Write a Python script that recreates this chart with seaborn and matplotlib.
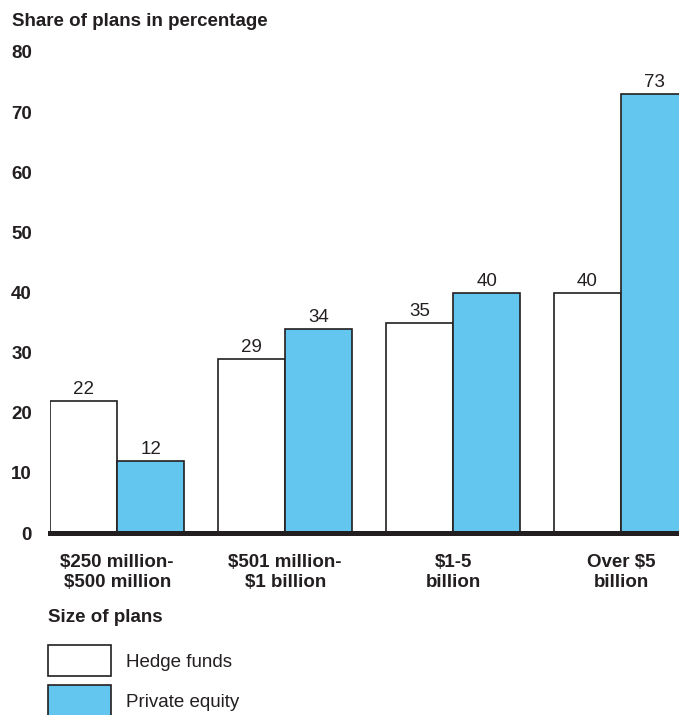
import matplotlib
matplotlib.use("Agg")
import matplotlib.pyplot as plt
import seaborn as sns
import pandas as pd

sizes = ["$250 million-\n$500 million", "$501 million-\n$1 billion", "$1-5\nbillion", "Over $5\nbillion"]
hedge_funds = [22, 29, 35, 40]
private_equity = [12, 34, 40, 73]
series_names = ["Hedge funds", "Private equity"]
y_ticks = [0, 10, 20, 30, 40, 50, 60, 70, 80]

df = pd.DataFrame({
    "size": sizes * 2,
    "type": [series_names[0]] * len(sizes) + [series_names[1]] * len(sizes),
    "share": hedge_funds + private_equity,
})

sns.set_style("white")
plt.rcParams["font.family"] = ["Liberation Sans", "DejaVu Sans"]
ink = "#231f20"
fs = 13.5

fig = plt.figure(figsize=(6.79, 7.15), dpi=100)
ax = fig.add_axes([50 / 679, (715 - 533) / 715, 1 - 50 / 679, (533 - 52) / 715])

sns.barplot(data=df, x="size", y="share", hue="type", ax=ax,
            palette={"Hedge funds": "white", "Private equity": "#62c6ee"},
            edgecolor=ink, linewidth=1.2, width=0.8, saturation=1)

for cont in ax.containers:
    ax.bar_label(cont, fontsize=fs, color=ink, padding=2)

ax.set_xlim(-0.4, 3.345)
ax.set_ylim(0, 80)
ax.set_yticks(y_ticks)
ax.set_yticklabels([str(t) for t in y_ticks], fontsize=fs, fontweight="bold", color=ink)
ax.set_xticks(range(len(sizes)))
ax.set_xticklabels([s.replace("$", r"\$") for s in sizes], fontsize=fs,
                   fontweight="bold", color=ink, linespacing=1.22)
ax.tick_params(axis="y", length=0, pad=13)
ax.tick_params(axis="x", length=0, pad=15)
ax.set_xlabel("")
ax.set_ylabel("")

for side in ["top", "right", "left"]:
    ax.spines[side].set_visible(False)
ax.spines["bottom"].set_linewidth(3.6)
ax.spines["bottom"].set_color(ink)
ax.spines["bottom"].set_zorder(5)

fig.text(12 / 679, 1 - 22 / 715, "Share of plans in percentage", fontsize=fs,
         fontweight="bold", color=ink, va="center", ha="left")
fig.text(48 / 679, 1 - 617 / 715, "Size of plans", fontsize=fs,
         fontweight="bold", color=ink, va="center", ha="left")

handles, labels = ax.get_legend_handles_labels()
ax.legend(handles, labels, loc="upper left", bbox_to_anchor=(48 / 679, 1 - 645 / 715),
          bbox_transform=fig.transFigure, frameon=False, fontsize=fs,
          handlelength=3.36, handleheight=2.2, handletextpad=0.8,
          labelspacing=0.48, borderaxespad=0, borderpad=0, labelcolor=ink)

fig.savefig("out.png", dpi=100)
